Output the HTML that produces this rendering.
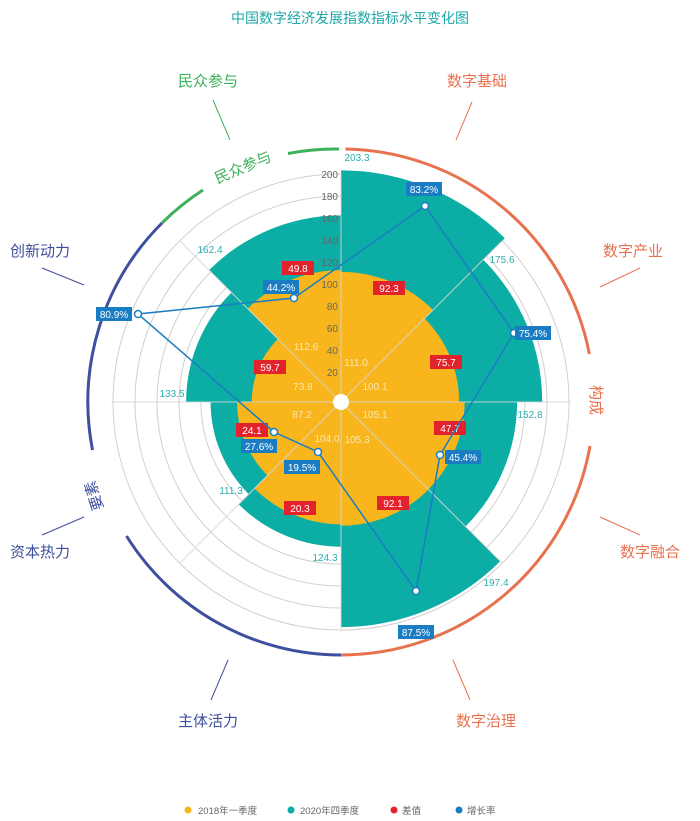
<!DOCTYPE html>
<html><head><meta charset="utf-8"><style>
html,body{margin:0;padding:0;background:#fff;}
svg{display:block;font-family:"Liberation Sans","Noto Sans CJK SC",sans-serif;}
</style></head><body>
<svg width="700" height="821" viewBox="0 0 700 821">
<text x="350" y="23" text-anchor="middle" font-size="14" fill="#1ea7a8">中国数字经济发展指数指标水平变化图</text>
<g fill="none" stroke="#d0d0d0" stroke-width="1">
<circle cx="341" cy="402" r="30"/><circle cx="341" cy="402" r="52"/><circle cx="341" cy="402" r="74"/>
<circle cx="341" cy="402" r="96"/><circle cx="341" cy="402" r="118"/><circle cx="341" cy="402" r="140"/>
<circle cx="341" cy="402" r="162"/><circle cx="341" cy="402" r="184"/><circle cx="341" cy="402" r="206"/>
<circle cx="341" cy="402" r="228"/>
</g>
<g fill="#0bada4">
<path d="M341,402 L341,170.4 A231.6,231.6 0 0 1 504.8,238.2 Z"/>
<path d="M341,402 L483.3,259.7 A201.2,201.2 0 0 1 542.2,402 Z"/>
<path d="M341,402 L517.1,402 A176.1,176.1 0 0 1 465.5,526.5 Z"/>
<path d="M341,402 L500.2,561.2 A225.1,225.1 0 0 1 341,627.1 Z"/>
<path d="M341,402 L341,546.7 A144.7,144.7 0 0 1 238.7,504.3 Z"/>
<path d="M341,402 L248.8,494.2 A130.4,130.4 0 0 1 210.6,402 Z"/>
<path d="M341,402 L186.1,402 A154.9,154.9 0 0 1 231.5,292.5 Z"/>
<path d="M341,402 L209.1,270.1 A186.6,186.6 0 0 1 341,215.4 Z"/>
</g>
<g fill="#f8b61c">
<path d="M341,402 L341,271.9 A130.1,130.1 0 0 1 433,310 Z"/>
<path d="M341,402 L424.5,318.5 A118.1,118.1 0 0 1 459.1,402 Z"/>
<path d="M341,402 L464.6,402 A123.6,123.6 0 0 1 428.4,489.4 Z"/>
<path d="M341,402 L428.5,489.5 A123.8,123.8 0 0 1 341,525.8 Z"/>
<path d="M341,402 L341,524.4 A122.4,122.4 0 0 1 254.5,488.5 Z"/>
<path d="M341,402 L267.5,475.5 A103.9,103.9 0 0 1 237.1,402 Z"/>
<path d="M341,402 L251.8,402 A89.2,89.2 0 0 1 277.9,338.9 Z"/>
<path d="M341,402 L247.7,308.7 A131.9,131.9 0 0 1 341,270.1 Z"/>
</g>
<g stroke="rgba(215,215,215,0.85)" stroke-width="1">
<line x1="341" y1="402" x2="341" y2="172"/><line x1="341" y1="402" x2="502" y2="241"/>
<line x1="341" y1="402" x2="571" y2="402"/><line x1="341" y1="402" x2="502" y2="563"/>
<line x1="341" y1="402" x2="341" y2="632"/><line x1="341" y1="402" x2="180" y2="563"/>
<line x1="341" y1="402" x2="111" y2="402"/><line x1="341" y1="402" x2="180" y2="241"/>
</g>
<circle cx="341" cy="402" r="8" fill="#fff"/>
<g font-size="10" fill="#666" text-anchor="end">
<text x="338" y="376">20</text><text x="338" y="354">40</text><text x="338" y="332">60</text>
<text x="338" y="310">80</text><text x="338" y="288">100</text><text x="338" y="266">120</text>
<text x="338" y="244">140</text><text x="338" y="222">160</text><text x="338" y="200">180</text>
<text x="338" y="178">200</text>
</g>
<g fill="none" stroke-width="3">
<path d="M345.4,149 A253,253 0 0 1 589.4,354" stroke="#e8714f"/>
<path d="M590,446 A253,253 0 0 1 341,655" stroke="#e8714f"/>
<path d="M341,655 A253,253 0 0 1 126.5,536" stroke="#3e4f9d"/>
<path d="M92.5,450 A253,253 0 0 1 162,223" stroke="#3e4f9d"/>
<path d="M162,223 A253,253 0 0 1 203,190" stroke="#3cb05a"/>
<path d="M288,153.5 A253,253 0 0 1 339,149" stroke="#3cb05a"/>
</g>
<text x="0" y="0" font-size="15" fill="#3cb05a" text-anchor="middle" transform="translate(245,172) rotate(-23)">民众参与</text>
<text x="0" y="0" font-size="15" fill="#e8714f" text-anchor="middle" transform="translate(591,400) rotate(90)">构成</text>
<text x="0" y="0" font-size="15" fill="#3e4f9d" text-anchor="middle" transform="translate(99,494) rotate(-108)">要素</text>
<g stroke-width="1">
<line x1="472" y1="102" x2="456" y2="140" stroke="#e8714f"/>
<line x1="640" y1="268" x2="600" y2="287" stroke="#e8714f"/>
<line x1="600" y1="517" x2="640" y2="535" stroke="#e8714f"/>
<line x1="453" y1="660" x2="470" y2="700" stroke="#e8714f"/>
<line x1="228" y1="660" x2="211" y2="700" stroke="#3e4f9d"/>
<line x1="84" y1="517" x2="42" y2="535" stroke="#3e4f9d"/>
<line x1="42" y1="268" x2="84" y2="285" stroke="#3e4f9d"/>
<line x1="213" y1="100" x2="230" y2="140" stroke="#3cb05a"/>
</g>
<g font-size="15" text-anchor="middle">
<text x="477" y="86" fill="#e8714f">数字基础</text>
<text x="633" y="256" fill="#e8714f">数字产业</text>
<text x="650" y="557" fill="#e8714f">数字融合</text>
<text x="486" y="726" fill="#e8714f">数字治理</text>
<text x="208" y="726" fill="#3e4f9d">主体活力</text>
<text x="40" y="557" fill="#3e4f9d">资本热力</text>
<text x="40" y="256" fill="#3e4f9d">创新动力</text>
<text x="208" y="86" fill="#3cb05a">民众参与</text>
</g>
<g font-size="10" fill="#2aaeb0" text-anchor="middle">
<text x="357" y="161">203.3</text><text x="502" y="263">175.6</text><text x="530" y="418">152.8</text>
<text x="496" y="586">197.4</text><text x="325" y="561">124.3</text><text x="231" y="494">111.3</text>
<text x="172" y="397">133.5</text><text x="210" y="253">162.4</text>
</g>
<g font-size="10" fill="#fde6ad" text-anchor="middle">
<text x="356" y="366">111.0</text><text x="375" y="390">100.1</text><text x="375" y="418">105.1</text>
<text x="357" y="443">105.3</text><text x="327" y="442">104.0</text><text x="302" y="418">87.2</text>
<text x="303" y="390">73.8</text><text x="306" y="350">112.6</text>
</g>
<g fill="#e3232c">
<rect x="373" y="281" width="32" height="14"/><rect x="430" y="355" width="32" height="14"/>
<rect x="434" y="421" width="32" height="14"/><rect x="377" y="496" width="32" height="14"/>
<rect x="284" y="501" width="32" height="14"/><rect x="236" y="423" width="32" height="14"/>
<rect x="254" y="360" width="32" height="14"/><rect x="282" y="261" width="32" height="14"/>
</g>
<g font-size="10" fill="#fff" text-anchor="middle">
<text x="389" y="292">92.3</text><text x="446" y="366">75.7</text><text x="450" y="432">47.7</text>
<text x="393" y="507">92.1</text><text x="300" y="512">20.3</text><text x="252" y="434">24.1</text>
<text x="270" y="371">59.7</text><text x="298" y="272">49.8</text>
</g>
<polyline points="425,206 514,333 440,455 416,591 318,452 274,432 138,314 294,298 425,206" fill="none" stroke="#1a7dc4" stroke-width="1.5"/>
<g fill="#fff" stroke="#1a7dc4" stroke-width="1.5">
<circle cx="425" cy="206" r="3.5"/><circle cx="514" cy="333" r="3.5"/><circle cx="440" cy="455" r="3.5"/>
<circle cx="416" cy="591" r="3.5"/><circle cx="318" cy="452" r="3.5"/><circle cx="274" cy="432" r="3.5"/>
<circle cx="138" cy="314" r="3.5"/><circle cx="294" cy="298" r="3.5"/>
</g>
<g fill="#1a7dc4">
<rect x="406" y="182" width="36" height="14"/><rect x="515" y="326" width="36" height="14"/>
<rect x="445" y="450" width="36" height="14"/><rect x="398" y="625" width="36" height="14"/>
<rect x="284" y="460" width="36" height="14"/><rect x="241" y="439" width="36" height="14"/>
<rect x="96" y="307" width="36" height="14"/><rect x="263" y="280" width="36" height="14"/>
</g>
<g font-size="10" fill="#fff" text-anchor="middle">
<text x="424" y="193">83.2%</text><text x="533" y="337">75.4%</text><text x="463" y="461">45.4%</text>
<text x="416" y="636">87.5%</text><text x="302" y="471">19.5%</text><text x="259" y="450">27.6%</text>
<text x="114" y="318">80.9%</text><text x="281" y="291">44.2%</text>
</g>
<circle cx="188" cy="810" r="3.5" fill="#f8b61c"/>
<circle cx="291" cy="810" r="3.5" fill="#0bada4"/>
<circle cx="394" cy="810" r="3.5" fill="#e3232c"/>
<circle cx="459" cy="810" r="3.5" fill="#1a7dc4"/>
<g font-size="9.5" fill="#666">
<text x="198" y="814">2018年一季度</text>
<text x="300" y="814">2020年四季度</text>
<text x="402" y="814">差值</text>
<text x="467" y="814">增长率</text>
</g>
</svg>
</body></html>
